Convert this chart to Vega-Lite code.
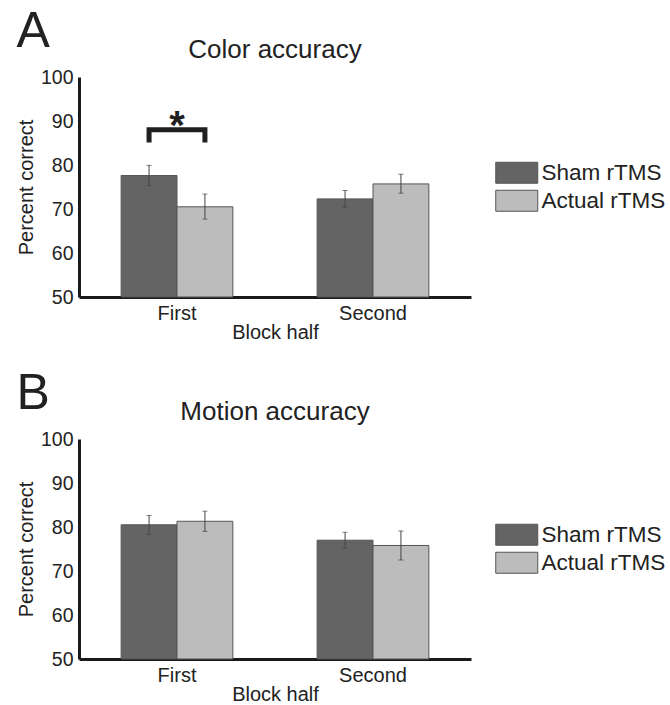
{
  "$schema": "https://vega.github.io/schema/vega-lite/v6.json",
  "padding": {"left": 16, "top": 7, "right": 5, "bottom": 3},
  "spacing": 26,
  "config": {
    "font": "Liberation Sans",
    "view": {"stroke": null},
    "axis": {"grid": false, "ticks": false, "domainWidth": 3, "domainColor": "#1a1a1a", "labelColor": "#222", "titleColor": "#222", "titleFontWeight": "normal", "labelFont": "Liberation Sans", "titleFont": "Liberation Sans"},
    "axisX": {"labelFontSize": 20, "titleFontSize": 20, "labelAngle": 0, "labelPadding": 6.5, "titlePadding": -1},
    "axisY": {"labelFontSize": 19.5, "titleFontSize": 20, "labelPadding": 6, "titlePadding": 4},
    "title": {"font": "Liberation Sans", "fontWeight": "normal", "color": "#222"},
    "legend": {"title": null, "labelFontSize": 22.5, "labelColor": "#222", "labelFont": "Liberation Sans", "padding": 0}
  },
  "resolve": {"scale": {"color": "independent"}, "legend": {"color": "independent"}},
  "datasets": {
    "color": [
      {"block": "First", "condition": "Sham rTMS", "mean": 77.6, "lo": 75.3, "hi": 79.9},
      {"block": "First", "condition": "Actual rTMS", "mean": 70.5, "lo": 67.7, "hi": 73.4},
      {"block": "Second", "condition": "Sham rTMS", "mean": 72.3, "lo": 70.4, "hi": 74.2},
      {"block": "Second", "condition": "Actual rTMS", "mean": 75.7, "lo": 73.6, "hi": 77.9}
    ],
    "motion": [
      {"block": "First", "condition": "Sham rTMS", "mean": 80.5, "lo": 78.3, "hi": 82.6},
      {"block": "First", "condition": "Actual rTMS", "mean": 81.3, "lo": 79.0, "hi": 83.6},
      {"block": "Second", "condition": "Sham rTMS", "mean": 77.0, "lo": 75.2, "hi": 78.8},
      {"block": "Second", "condition": "Actual rTMS", "mean": 75.8, "lo": 72.5, "hi": 79.1}
    ],
    "bracket": [
      {"block": "First", "condition": "Sham rTMS", "y": 85.1, "ord": 1},
      {"block": "First", "condition": "Sham rTMS", "y": 88.0, "ord": 2},
      {"block": "First", "condition": "Actual rTMS", "y": 88.0, "ord": 3},
      {"block": "First", "condition": "Actual rTMS", "y": 85.1, "ord": 4}
    ],
    "star": [
      {"block": "First", "y": 86.0, "label": "*"}
    ]
  },
  "vconcat": [
    {
      "title": {"text": "A", "anchor": "start", "fontSize": 50, "offset": -20, "frame": "bounds"},
      "vconcat": [
        {
          "title": {"text": "Color accuracy", "fontSize": 26, "offset": 4},
          "width": 392,
          "height": 220,
          "encoding": {
            "x": {"field": "block", "type": "nominal", "sort": ["First", "Second"], "title": "Block half", "scale": {"paddingInner": 0.43, "paddingOuter": 0.215}}
          },
          "layer": [
            {
              "data": {"name": "color"},
              "mark": {"type": "bar", "stroke": "#555", "strokeWidth": 1},
              "encoding": {
                "xOffset": {"field": "condition", "type": "nominal", "sort": ["Sham rTMS", "Actual rTMS"], "scale": {"paddingInner": 0, "paddingOuter": 0}},
                "y": {"field": "mean", "type": "quantitative", "title": "Percent correct", "scale": {"domain": [50, 100], "nice": false, "zero": false}, "axis": {"values": [50, 60, 70, 80, 90, 100]}},
                "y2": {"datum": 50},
                "color": {"field": "condition", "type": "nominal", "sort": ["Sham rTMS", "Actual rTMS"], "scale": {"range": ["#646464", "#bcbcbc"]},
                  "legend": {"orient": "none", "legendX": 426.5, "legendY": 84.5, "symbolType": "M-2,-1H2V1H-2Z", "symbolSize": 441, "symbolOpacity": 1, "symbolStrokeColor": "#555", "symbolStrokeWidth": 1, "labelOffset": 13.5, "rowPadding": 2}}
              }
            },
            {
              "data": {"name": "color"},
              "mark": {"type": "rule", "color": "#444", "strokeWidth": 1},
              "encoding": {
                "xOffset": {"field": "condition", "type": "nominal", "sort": ["Sham rTMS", "Actual rTMS"]},
                "y": {"field": "lo", "type": "quantitative", "title": "Percent correct"},
                "y2": {"field": "hi"}
              }
            },
            {
              "data": {"name": "color"},
              "mark": {"type": "tick", "color": "#444", "thickness": 1, "size": 5},
              "encoding": {
                "xOffset": {"field": "condition", "type": "nominal", "sort": ["Sham rTMS", "Actual rTMS"]},
                "y": {"field": "lo", "type": "quantitative", "title": "Percent correct"}
              }
            },
            {
              "data": {"name": "color"},
              "mark": {"type": "tick", "color": "#444", "thickness": 1, "size": 5},
              "encoding": {
                "xOffset": {"field": "condition", "type": "nominal", "sort": ["Sham rTMS", "Actual rTMS"]},
                "y": {"field": "hi", "type": "quantitative", "title": "Percent correct"}
              }
            },
            {
              "data": {"name": "bracket"},
              "mark": {"type": "line", "color": "#1f1f1f", "strokeWidth": 5, "strokeCap": "butt", "strokeJoin": "miter"},
              "encoding": {
                "xOffset": {"field": "condition", "type": "nominal", "sort": ["Sham rTMS", "Actual rTMS"]},
                "y": {"field": "y", "type": "quantitative", "title": "Percent correct"},
                "order": {"field": "ord"}
              }
            },
            {
              "data": {"name": "star"},
              "mark": {"type": "text", "fontSize": 40, "fontWeight": "bold", "color": "#1f1f1f", "baseline": "alphabetic"},
              "encoding": {
                "y": {"field": "y", "type": "quantitative", "title": "Percent correct"},
                "text": {"field": "label"}
              }
            }
          ]
        }
      ]
    },
    {
      "title": {"text": "B", "anchor": "start", "fontSize": 50, "offset": -20, "frame": "bounds"},
      "vconcat": [
        {
          "title": {"text": "Motion accuracy", "fontSize": 26, "offset": 4},
          "width": 392,
          "height": 220,
          "encoding": {
            "x": {"field": "block", "type": "nominal", "sort": ["First", "Second"], "title": "Block half", "scale": {"paddingInner": 0.43, "paddingOuter": 0.215}}
          },
          "layer": [
            {
              "data": {"name": "motion"},
              "mark": {"type": "bar", "stroke": "#555", "strokeWidth": 1},
              "encoding": {
                "xOffset": {"field": "condition", "type": "nominal", "sort": ["Sham rTMS", "Actual rTMS"], "scale": {"paddingInner": 0, "paddingOuter": 0}},
                "y": {"field": "mean", "type": "quantitative", "title": "Percent correct", "scale": {"domain": [50, 100], "nice": false, "zero": false}, "axis": {"values": [50, 60, 70, 80, 90, 100]}},
                "y2": {"datum": 50},
                "color": {"field": "condition", "type": "nominal", "sort": ["Sham rTMS", "Actual rTMS"], "scale": {"range": ["#646464", "#bcbcbc"]},
                  "legend": {"orient": "none", "legendX": 426.5, "legendY": 84.5, "symbolType": "M-2,-1H2V1H-2Z", "symbolSize": 441, "symbolOpacity": 1, "symbolStrokeColor": "#555", "symbolStrokeWidth": 1, "labelOffset": 13.5, "rowPadding": 2}}
              }
            },
            {
              "data": {"name": "motion"},
              "mark": {"type": "rule", "color": "#444", "strokeWidth": 1},
              "encoding": {
                "xOffset": {"field": "condition", "type": "nominal", "sort": ["Sham rTMS", "Actual rTMS"]},
                "y": {"field": "lo", "type": "quantitative", "title": "Percent correct"},
                "y2": {"field": "hi"}
              }
            },
            {
              "data": {"name": "motion"},
              "mark": {"type": "tick", "color": "#444", "thickness": 1, "size": 5},
              "encoding": {
                "xOffset": {"field": "condition", "type": "nominal", "sort": ["Sham rTMS", "Actual rTMS"]},
                "y": {"field": "lo", "type": "quantitative", "title": "Percent correct"}
              }
            },
            {
              "data": {"name": "motion"},
              "mark": {"type": "tick", "color": "#444", "thickness": 1, "size": 5},
              "encoding": {
                "xOffset": {"field": "condition", "type": "nominal", "sort": ["Sham rTMS", "Actual rTMS"]},
                "y": {"field": "hi", "type": "quantitative", "title": "Percent correct"}
              }
            }
          ]
        }
      ]
    }
  ]
}
